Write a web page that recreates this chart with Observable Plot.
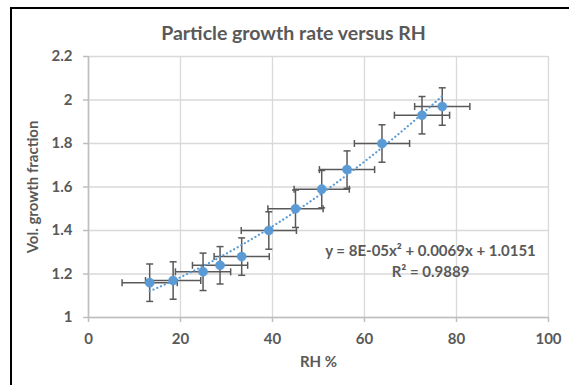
<!DOCTYPE html>
<html>
<head>
<meta charset="utf-8">
<script src="https://cdn.jsdelivr.net/npm/d3@7"></script>
<script src="https://cdn.jsdelivr.net/npm/@observablehq/plot@0.6"></script>
<style>
  html, body { margin: 0; padding: 0; background: #fff; }
  #chart { position: relative; width: 569px; height: 385px; overflow: hidden; }
  #frame { position: absolute; left: 10px; top: 7px; width: 620px; height: 420px;
           border-left: 2px solid #000; border-top: 2px solid #000; box-sizing: border-box; }
  #chart svg { position: absolute; left: 0; top: 0; }
</style>
</head>
<body>
<div id="chart"><div id="frame"></div></div>
<script>
// Relative humidity (%) and volume growth fraction for each sample
const rh = [13.3, 18.4, 24.9, 28.6, 33.3, 39.2, 45.0, 50.7, 56.2, 63.8, 72.5, 76.9];
const growth = [1.16, 1.17, 1.21, 1.24, 1.28, 1.40, 1.50, 1.59, 1.68, 1.80, 1.93, 1.97];
// Error bar half-widths
const rhErr = [6, 6, 6, 6, 6, 6, 6, 6, 6, 6, 6, 6];
const growthErr = [0.086, 0.086, 0.086, 0.086, 0.086, 0.086, 0.086, 0.086, 0.086, 0.086, 0.086, 0.086];

// Polynomial trendline coefficients (y = a x² + b x + c) and R²
const fitA = 8e-5, fitB = 0.0069, fitC = 1.0151;
const rSquared = 0.9889;

const xTicks = [0, 20, 40, 60, 80, 100];
const yTicks = [1, 1.2, 1.4, 1.6, 1.8, 2, 2.2];

const titleText = "Particle growth rate versus RH";
const xTitle = "RH %";
const yTitle = "Vol. growth fraction";
const eqLine = "y = 8E-05x² + 0.0069x + 1.0151";
const r2Line = `R² = ${rSquared}`;

const points = rh.map((x, i) => ({x, y: growth[i], ex: rhErr[i], ey: growthErr[i]}));

// Trendline sampled across the measured RH range
const xMin = d3.min(rh), xMax = d3.max(rh);
const trend = d3.range(0, 101).map(k => {
  const x = xMin + (xMax - xMin) * k / 100;
  return {x, y: fitA * x * x + fitB * x + fitC};
});

// Short cap strokes for the error bar ends
const capVertical = {draw(ctx) { ctx.moveTo(0, -3.5); ctx.lineTo(0, 3.5); }};
const capHorizontal = {draw(ctx) { ctx.moveTo(-3.5, 0); ctx.lineTo(3.5, 0); }};

const ink = "#595959";
const blue = "#5b9bd5";
const font = "Lato, 'Open Sans', sans-serif";

const chart = Plot.plot({
  width: 569,
  height: 385,
  marginLeft: 88,
  marginRight: 21,
  marginTop: 56,
  marginBottom: 68,
  style: {fontFamily: font, fontWeight: "bold", fontSize: "15px", background: "transparent", color: ink},
  x: {domain: [0, 100], ticks: xTicks},
  y: {domain: [1, 2.2], ticks: yTicks},
  marks: [
    Plot.gridX(xTicks, {stroke: "#d9d9d9", strokeOpacity: 1, strokeWidth: 1.3}),
    Plot.gridY(yTicks, {stroke: "#d9d9d9", strokeOpacity: 1, strokeWidth: 1.3}),
    Plot.ruleY([1], {stroke: "#bfbfbf", strokeWidth: 1.6}),
    Plot.ruleX([0], {stroke: "#bfbfbf", strokeWidth: 1.6}),
    Plot.axisX(xTicks, {tickSize: 5, tickPadding: 11, stroke: "#bfbfbf", strokeWidth: 1.5, fill: ink, label: null, fontSize: 15, tickFormat: d => String(d)}),
    Plot.axisY(yTicks, {tickSize: 5, tickPadding: 11, stroke: "#bfbfbf", strokeWidth: 1.5, fill: ink, label: null, fontSize: 15, tickFormat: d => String(d)}),
    // error bars
    Plot.link(points, {x1: d => d.x - d.ex, x2: d => d.x + d.ex, y1: "y", y2: "y", stroke: ink, strokeWidth: 1.5}),
    Plot.link(points, {x1: "x", x2: "x", y1: d => d.y - d.ey, y2: d => d.y + d.ey, stroke: ink, strokeWidth: 1.5}),
    Plot.dot(points, {x: d => d.x - d.ex, y: "y", symbol: capVertical, stroke: ink, strokeWidth: 1.5, fill: "none"}),
    Plot.dot(points, {x: d => d.x + d.ex, y: "y", symbol: capVertical, stroke: ink, strokeWidth: 1.5, fill: "none"}),
    Plot.dot(points, {x: "x", y: d => d.y - d.ey, symbol: capHorizontal, stroke: ink, strokeWidth: 1.5, fill: "none"}),
    Plot.dot(points, {x: "x", y: d => d.y + d.ey, symbol: capHorizontal, stroke: ink, strokeWidth: 1.5, fill: "none"}),
    // dotted trendline
    Plot.line(trend, {x: "x", y: "y", stroke: blue, strokeWidth: 2.2, strokeDasharray: "0.1 4", strokeLinecap: "round"}),
    // markers
    Plot.dot(points, {x: "x", y: "y", r: 4.6, fill: blue, stroke: blue, strokeWidth: 0.5}),
    // trendline equation
    Plot.text([eqLine], {frameAnchor: "bottom-right", dx: -118, dy: -66, textAnchor: "middle", lineAnchor: "middle", fill: ink, fontSize: 15}),
    Plot.text([r2Line], {frameAnchor: "bottom-right", dx: -118, dy: -45, textAnchor: "middle", lineAnchor: "middle", fill: ink, fontSize: 15}),
    // titles
    Plot.text([titleText], {frameAnchor: "top", dx: -25, dy: -30, fill: ink, fontSize: 19.5}),
    Plot.text([xTitle], {frameAnchor: "bottom", dy: 49, fill: ink, fontSize: 15}),
    Plot.text([yTitle], {frameAnchor: "left", dx: -55, rotate: -90, textAnchor: "middle", fill: ink, fontSize: 15})
  ]
});

document.getElementById("chart").appendChild(chart);
</script>
</body>
</html>
